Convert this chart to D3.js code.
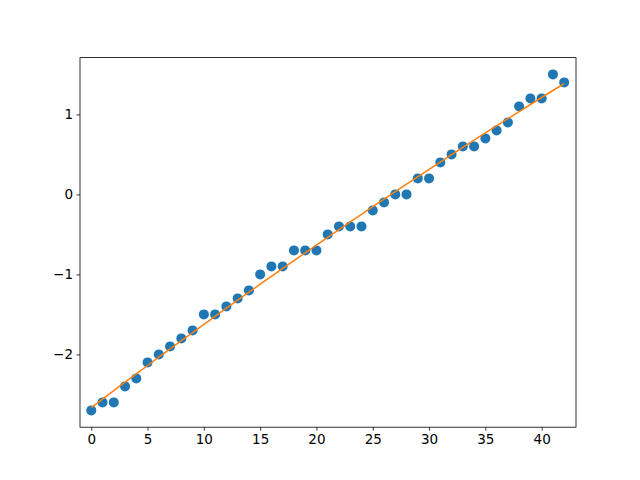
<!DOCTYPE html>
<html><head><meta charset="utf-8">
<script src="https://cdn.jsdelivr.net/npm/d3@7"></script>
<style>body{margin:0;background:#fff}svg{display:block}</style>
</head><body>
<script>
const xValues = d3.range(0, 43);
const yValues = [-2.7,-2.6,-2.6,-2.4,-2.3,-2.1,-2.0,-1.9,-1.8,-1.7,
  -1.5,-1.5,-1.4,-1.3,-1.2,-1.0,-0.9,-0.9,-0.7,-0.7,
  -0.7,-0.5,-0.4,-0.4,-0.4,-0.2,-0.1,0,0,0.2,
  0.2,0.4,0.5,0.6,0.6,0.7,0.8,0.9,1.1,1.2,
  1.2,1.5,1.4];
const xTicks = [0,5,10,15,20,25,30,35,40];
const yTicks = [-2,-1,0,1];

// quadratic least-squares fit of the data
function polyfit2(xs, ys){
  const S=[0,0,0,0,0], T=[0,0,0];
  xs.forEach((v,i)=>{let p=1; for(let k=0;k<5;k++){S[k]+=p; if(k<3) T[k]+=p*ys[i]; p*=v;}});
  const A=[[S[0],S[1],S[2],T[0]],[S[1],S[2],S[3],T[1]],[S[2],S[3],S[4],T[2]]];
  for(let i=0;i<3;i++){for(let j=i+1;j<3;j++){const f=A[j][i]/A[i][i]; for(let k=i;k<4;k++) A[j][k]-=f*A[i][k];}}
  const c=[0,0,0];
  for(let i=2;i>=0;i--){let s=A[i][3]; for(let k=i+1;k<3;k++) s-=A[i][k]*c[k]; c[i]=s/A[i][i];}
  return c;
}
const coef = polyfit2(xValues, yValues);
const fit = xValues.map(v=>[v, coef[0]+coef[1]*v+coef[2]*v*v]);

const W=640,H=480, L=80, R=576, T=57.6, B=427.2;
const svg = d3.select("body").append("svg").attr("width",W).attr("height",H);
const x = d3.scaleLinear().domain([-1.0, 43.05]).range([L,R]);
const y = d3.scaleLinear().domain([-2.91, 1.71]).range([B,T]);

const g = svg.append("g");
g.selectAll("circle").data(xValues).enter().append("circle")
  .attr("cx",d=>x(d)).attr("cy",(d,i)=>y(yValues[i])).attr("r",5).attr("fill","#1f77b4");
g.append("path").datum(fit).attr("fill","none").attr("stroke","#ff7f0e").attr("stroke-width",1.5)
  .attr("d", d3.line().x(d=>x(d[0])).y(d=>y(d[1])));

const fmt = d => d<0 ? "\u2212"+Math.abs(d) : String(d);
const xa = svg.append("g").attr("transform",`translate(0,${B})`)
  .call(d3.axisBottom(x).tickValues(xTicks).tickFormat(fmt).tickSize(3.5).tickPadding(3.5));
const ya = svg.append("g").attr("transform",`translate(${L},0)`)
  .call(d3.axisLeft(y).tickValues(yTicks).tickFormat(fmt).tickSize(3.5).tickPadding(3.5));
[xa,ya].forEach(a=>{a.select(".domain").remove();
  a.selectAll("text").attr("font-family","DejaVu Sans").attr("font-size","13.5px").attr("fill","#000");
  a.selectAll("line").attr("stroke","#000").attr("stroke-width",0.8);});
svg.append("rect").attr("x",L).attr("y",T).attr("width",R-L).attr("height",B-T)
  .attr("fill","none").attr("stroke","#000").attr("stroke-width",0.8);
</script>
</body></html>
